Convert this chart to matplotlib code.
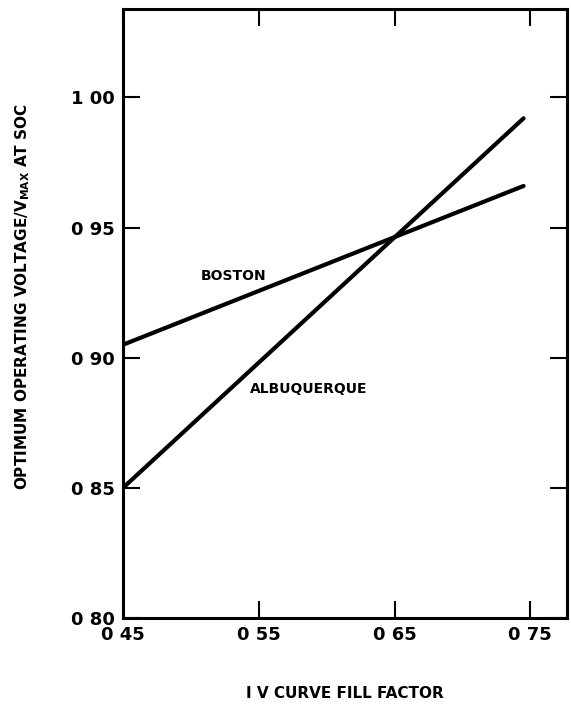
import numpy as np
import matplotlib.pyplot as plt

plt.rcParams['font.family'] = ['DejaVu Sans']
plt.rcParams['font.weight'] = 'bold'

fill_factor = [0.45, 0.745]
boston = [0.905, 0.966]
albuquerque = [0.850, 0.992]

xticks = [0.45, 0.55, 0.65, 0.75]
xtick_labels = ["0 45", "0 55", "0 65", "0 75"]
yticks = [0.80, 0.85, 0.90, 0.95, 1.00]
ytick_labels = ["0 80", "0 85", "0 90", "0 95", "1 00"]

fig = plt.figure(figsize=(5.71, 7.06), dpi=100)
ax = fig.add_axes([123/571, 1 - 618/706, (567-123)/571, (618-9)/706])

ax.plot(fill_factor, boston, color="black", lw=3, solid_capstyle="round")
ax.plot(fill_factor, albuquerque, color="black", lw=3, solid_capstyle="round")

ax.text(0.507, 0.9315, "BOSTON", fontsize=10, fontweight="bold", va="center")
ax.text(0.5434, 0.888, "ALBUQUERQUE", fontsize=10, fontweight="bold", va="center")

ax.set_xlim(0.45, 0.777)
ax.set_ylim(0.80, 1.034)
ax.set_xticks(xticks)
ax.set_xticklabels(xtick_labels)
ax.set_yticks(yticks)
ax.set_yticklabels(ytick_labels)
ax.tick_params(direction="in", length=12, width=1.5, top=True, right=True,
               labelsize=13, pad=6)
for s in ax.spines.values():
    s.set_linewidth(2.2)

ax.set_xlabel("I V CURVE FILL FACTOR", fontsize=11, fontweight="bold", labelpad=30)
ax.set_ylabel("OPTIMUM OPERATING VOLTAGE/V$_{\\mathbf{MAX}}$ AT SOC",
              fontsize=11, fontweight="bold")
ax.yaxis.set_label_coords(-0.205, 0.527)

fig.savefig("out.png", dpi=100)
